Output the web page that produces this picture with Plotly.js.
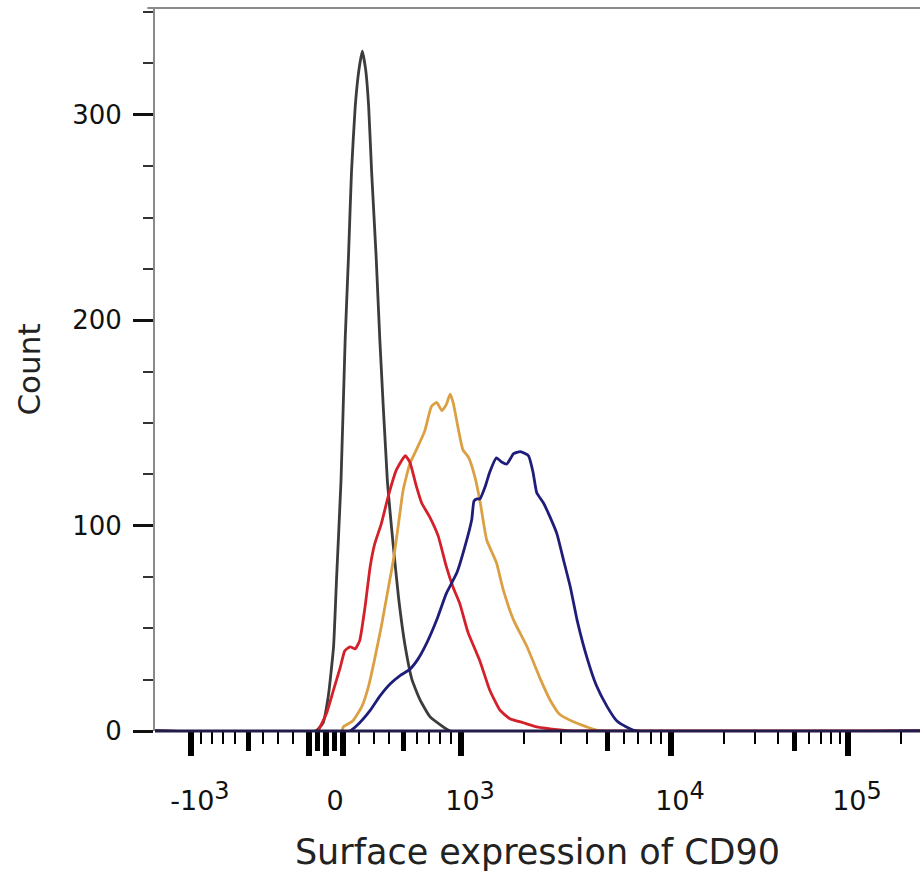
<!DOCTYPE html>
<html>
<head>
<meta charset="utf-8">
<script src="https://cdn.plot.ly/plotly-3.0.1.min.js"></script>
<style>html,body{margin:0;padding:0;background:#fff;}#chart{width:922px;height:879px;}</style>
</head>
<body>
<div id="chart"></div>
<script>
// Histogram data in display channels (0-1024 biexponential channel scale) and counts
const blackCh  = [0, 215, 225, 232, 239, 243, 249, 254.5, 259, 263, 268, 273, 277.5, 282, 286, 290, 296, 301, 311, 319, 326, 335, 344, 355, 368, 382, 395, 1024];
const blackCnt = [0, 0, 4, 17, 41, 74, 122, 190, 231, 272, 304, 322, 331, 322, 304, 272, 231, 190, 122, 90, 65, 41, 25, 15, 7, 3, 0, 0];

const redCh  = [0, 218, 221, 230, 239, 248, 254, 261, 268, 274, 281, 288, 294, 303, 312, 323, 335, 341, 350, 357, 368, 379, 390, 399, 408, 419, 435, 448, 462, 475, 493, 511, 542, 560, 1024];
const redCnt = [0, 0, 2, 9, 20, 31, 39, 41, 40, 44, 60, 80, 91, 101, 114, 127, 134, 131, 119, 111, 104, 95, 80, 70, 62, 48, 34, 20, 10, 6, 4, 2, 0.5, 0, 0];

const orangeCh  = [0, 250, 252, 265, 277, 286, 294, 303, 312, 319, 326, 332, 341, 350, 361, 370, 377, 384, 390, 395, 399, 406, 412, 420, 428, 435, 444, 457, 466, 480, 498, 515, 529, 542, 560, 578, 596, 1024];
const orangeCnt = [0, 0, 2, 5, 12, 22, 35, 51, 69, 83, 101, 117, 130, 137, 146, 158, 160, 156, 159, 164, 160, 147, 137, 133, 124, 112, 93, 82, 69, 54, 41, 26, 15, 8, 4.5, 2, 0, 0];

const blueCh  = [0, 261, 274, 288, 301, 315, 328, 341, 352, 364, 377, 390, 404, 415, 424, 427, 431, 435, 442, 448, 457, 464, 471, 480, 489, 500, 506, 511, 520, 529, 538, 547, 556, 565, 578, 591, 605, 618, 631, 645, 1024];
const blueCnt = [0, 0, 4, 10, 17, 23, 27, 30, 35, 43, 54, 67, 77, 90, 103, 112, 113, 113, 119, 126, 133, 131, 130, 135, 136, 134, 126, 116, 111, 104, 96, 83, 70, 54, 36, 22, 12, 5, 2, 0, 0];

// Axis tick values (raw fluorescence) and labels
const majorVals   = [-1000, 0, 1000, 10000, 100000];
const majorLabels = ["-10<sup><span style='font-size:24px'>3</span></sup>", "0",
                     "10<sup><span style='font-size:24px'>3</span></sup>",
                     "10<sup><span style='font-size:24px'>4</span></sup>",
                     "10<sup><span style='font-size:24px'>5</span></sup>"];
const nearZeroVals = [-100, 100];
const mediumVals  = [-500, -50, 50, 500, 5000, 50000];
const minorVals   = [-900, -800, -700, -600, -400, -300, -200, 200, 300, 400, 600, 700, 800, 900,
                     2000, 3000, 4000, 6000, 7000, 8000, 9000,
                     20000, 30000, 40000, 60000, 70000, 80000, 90000, 200000];
const countTicks  = [0, 100, 200, 300];

// Biexponential-like display transform: raw value -> channel
function toChannel(v) {
  const a = Math.abs(v), s = v < 0 ? -1 : 1;
  let d;
  if (a <= 1000) d = 158.8 * Math.asinh(a / 714);
  else if (a <= 10000) d = 180.7 + 281.1 * Math.log10(a / 1000);
  else d = 180.7 + 281.1 + 236.9 * Math.log10(a / 10000);
  return 228.9 + s * d;
}

const mk = (x, y, color) => ({
  x: x, y: y, type: 'scatter', mode: 'lines',
  line: {color: color, width: 2.8, shape: 'spline', smoothing: 0.45},
  hoverinfo: 'skip', showlegend: false
});

const traces = [
  mk(blackCh, blackCnt, '#3c3c3c'),
  mk(orangeCh, orangeCnt, '#dca044'),
  mk(redCh, redCnt, '#d4202a'),
  mk(blueCh, blueCnt, '#1e1e7a'),
  {x: [0], y: [0], xaxis: 'x2', yaxis: 'y', type: 'scatter', mode: 'none', hoverinfo: 'skip', showlegend: false},
  {x: [0], y: [0], xaxis: 'x3', yaxis: 'y', type: 'scatter', mode: 'none', hoverinfo: 'skip', showlegend: false}
];

const font = "DejaVu Sans, Verdana, sans-serif";
const tickOnlyAxis = (vals, len, w) => ({
  overlaying: 'x', matches: 'x', range: [0, 1024], side: 'bottom',
  tickmode: 'array', tickvals: vals.map(toChannel),
  ticks: 'outside', ticklen: len, tickwidth: w, tickcolor: '#000',
  showline: false, showgrid: false, zeroline: false, showticklabels: false
});

const layout = {
  width: 922, height: 879,
  margin: {l: 155, r: 2, t: 8, b: 148},
  paper_bgcolor: '#fff', plot_bgcolor: '#fff',
  font: {family: font, color: '#111'},
  showlegend: false,
  xaxis: {
    range: [0, 1024], fixedrange: true,
    tickmode: 'array', tickvals: majorVals.map(toChannel), ticktext: majorLabels,
    ticks: 'outside', ticklen: 24, tickwidth: 6, tickcolor: '#000',
    tickfont: {size: 27, color: '#111', family: font},
    ticklabelstandoff: 22, ticklabelshift: 9,
    showline: false,
    showgrid: false, zeroline: false,
    minor: {tickmode: 'array', tickvals: minorVals.map(toChannel), ticks: 'outside', ticklen: 12, tickwidth: 2, tickcolor: '#000', showgrid: false},
    title: {text: 'Surface expression of CD90', font: {size: 35, color: '#222', family: font}, standoff: 24},
    automargin: false
  },
  xaxis2: tickOnlyAxis(mediumVals, 19, 5),
  xaxis3: tickOnlyAxis(nearZeroVals, 24, 6),
  yaxis: {
    range: [0, 352], fixedrange: true,
    tickmode: 'array', tickvals: countTicks, ticktext: countTicks.map(String),
    ticks: 'outside', ticklen: 20, tickwidth: 3, tickcolor: '#111',
    tickfont: {size: 26, color: '#111', family: font},
    ticklabelstandoff: 6,
    showline: true, linecolor: '#8a8a8a', linewidth: 2,
    showgrid: false, zeroline: false,
    minor: {dtick: 25, ticks: 'outside', ticklen: 10, tickwidth: 2, tickcolor: '#333', showgrid: false},
    title: {text: 'Count', font: {size: 31, color: '#222', family: font}, standoff: 22},
    automargin: false
  },
  shapes: [
    {type: 'line', xref: 'paper', yref: 'paper', x0: -0.01, x1: 1, y0: 1, y1: 1, line: {color: '#8a8a8a', width: 2}},
    {type: 'line', xref: 'paper', yref: 'paper', x0: 0, x1: 1, y0: 0, y1: 0, layer: 'above', line: {color: '#221c48', width: 3}}
  ]
};

Plotly.newPlot('chart', traces, layout, {staticPlot: true, displayModeBar: false});
</script>
</body>
</html>
